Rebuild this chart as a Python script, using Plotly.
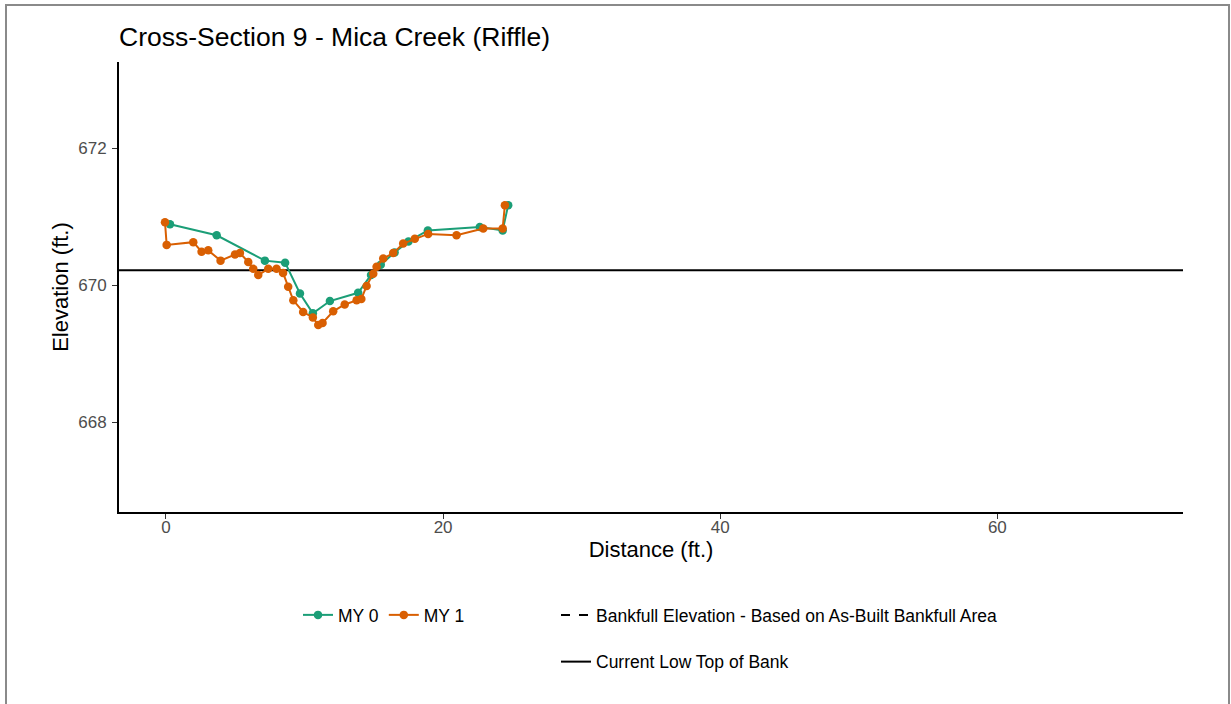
import plotly.graph_objects as go

# ---- data ----
my0_dist = [0.29, 3.66, 7.14, 8.6, 9.67, 10.6, 11.83, 13.87, 14.8, 15.5, 16.5, 17.5, 18.9, 22.65, 24.3, 24.7]
my0_elev = [670.89, 670.73, 670.36, 670.33, 669.88, 669.59, 669.77, 669.89, 670.15, 670.30, 670.48, 670.64, 670.80, 670.85, 670.80, 671.17]

my1_dist = [-0.07, 0.05, 1.97, 2.57, 3.05, 3.94, 4.98, 5.34, 5.94, 6.3, 6.66, 7.38, 7.98, 8.45, 8.82,
            9.19, 9.9, 10.6, 10.99, 11.3, 12.07, 12.9, 13.76, 14.1, 14.48, 14.96, 15.2, 15.68, 16.4,
            17.12, 17.96, 18.92, 20.97, 22.9, 24.3, 24.46]
my1_elev = [670.92, 670.59, 670.63, 670.49, 670.51, 670.36, 670.45, 670.47, 670.34, 670.24, 670.15, 670.24, 670.24, 670.18, 669.98,
            669.78, 669.61, 669.53, 669.42, 669.45, 669.62, 669.72, 669.78, 669.80, 669.99, 670.17, 670.27, 670.39, 670.47,
            670.61, 670.68, 670.75, 670.73, 670.83, 670.83, 671.17]

low_top_of_bank = 670.22
x_range = [-3.39, 73.4]
y_range = [666.69, 673.26]
x_ticks = [0, 20, 40, 60]
y_ticks = [668, 670, 672]

GREEN = "#1b9e77"
ORANGE = "#d95f02"

fig = go.Figure()

fig.add_trace(go.Scatter(
    x=[x_range[0], x_range[1]], y=[low_top_of_bank, low_top_of_bank],
    mode="lines", line=dict(color="black", width=2),
    name="Current Low Top of Bank", legend="legend2", legendgroup="b",
    legendrank=2))
fig.add_trace(go.Scatter(
    x=[None], y=[None], mode="lines",
    line=dict(color="black", width=2, dash="dash"),
    name="Bankfull Elevation - Based on As-Built Bankfull Area",
    legend="legend2", legendgroup="a", legendrank=1))

fig.add_trace(go.Scatter(
    x=my0_dist, y=my0_elev, mode="lines+markers", name="MY 0",
    line=dict(color=GREEN, width=2), marker=dict(color=GREEN, size=8.5),
    legend="legend", legendrank=1))
fig.add_trace(go.Scatter(
    x=my1_dist, y=my1_elev, mode="lines+markers", name="MY 1",
    line=dict(color=ORANGE, width=2), marker=dict(color=ORANGE, size=8.5),
    legend="legend", legendrank=2))

W, H = 1231, 704
L, R, T, B = 119, 48, 62, 192
pw, ph = W - L - R, H - T - B

def px2paper_x(px):
    return (px - L) / pw

def py2paper_y(py):
    return (H - B - py) / ph

fig.add_shape(type="rect", xref="paper", yref="paper",
              x0=px2paper_x(6), x1=px2paper_x(1229),
              y0=py2paper_y(720), y1=py2paper_y(5),
              line=dict(color="#8a8a8a", width=2), fillcolor="rgba(0,0,0,0)",
              layer="below")

font_family = "Liberation Sans, Arial, Helvetica, sans-serif"

fig.update_layout(
    width=W, height=H,
    margin=dict(l=L, r=R, t=T, b=B, autoexpand=False),
    paper_bgcolor="white", plot_bgcolor="white",
    font=dict(family=font_family, color="black"),
    title=dict(text="Cross-Section 9 - Mica Creek (Riffle)",
               x=px2paper_x(119), xref="paper", xanchor="left",
               y=1 - 37 / H, yanchor="middle",
               font=dict(size=26.5, color="black")),
    xaxis=dict(range=x_range, tickvals=x_ticks, showgrid=False, zeroline=False,
               showline=True, linecolor="black", linewidth=2,
               ticks="outside", ticklen=5, tickcolor="#333333",
               ticklabelstandoff=-6,
               tickfont=dict(size=17, color="#4d4d4d"),
               title=dict(text="Distance (ft.)", font=dict(size=22, color="black"), standoff=0)),
    yaxis=dict(range=y_range, tickvals=y_ticks, showgrid=False, zeroline=False,
               showline=True, linecolor="black", linewidth=2,
               ticks="outside", ticklen=5, tickcolor="#333333",
               ticklabelstandoff=2,
               tickfont=dict(size=17, color="#4d4d4d"),
               title=dict(text="Elevation (ft.)", font=dict(size=22, color="black"), standoff=4)),
    legend=dict(orientation="h", x=px2paper_x(298), y=py2paper_y(597),
                xanchor="left", yanchor="top", font=dict(size=17.5, color="black"),
                bgcolor="rgba(0,0,0,0)", itemwidth=30),
    legend2=dict(orientation="v", x=px2paper_x(556), y=py2paper_y(597),
                 xanchor="left", yanchor="top", font=dict(size=17.5, color="black"),
                 bgcolor="rgba(0,0,0,0)", itemwidth=30, tracegroupgap=21),
    showlegend=True,
)

fig.write_html("out.html")
